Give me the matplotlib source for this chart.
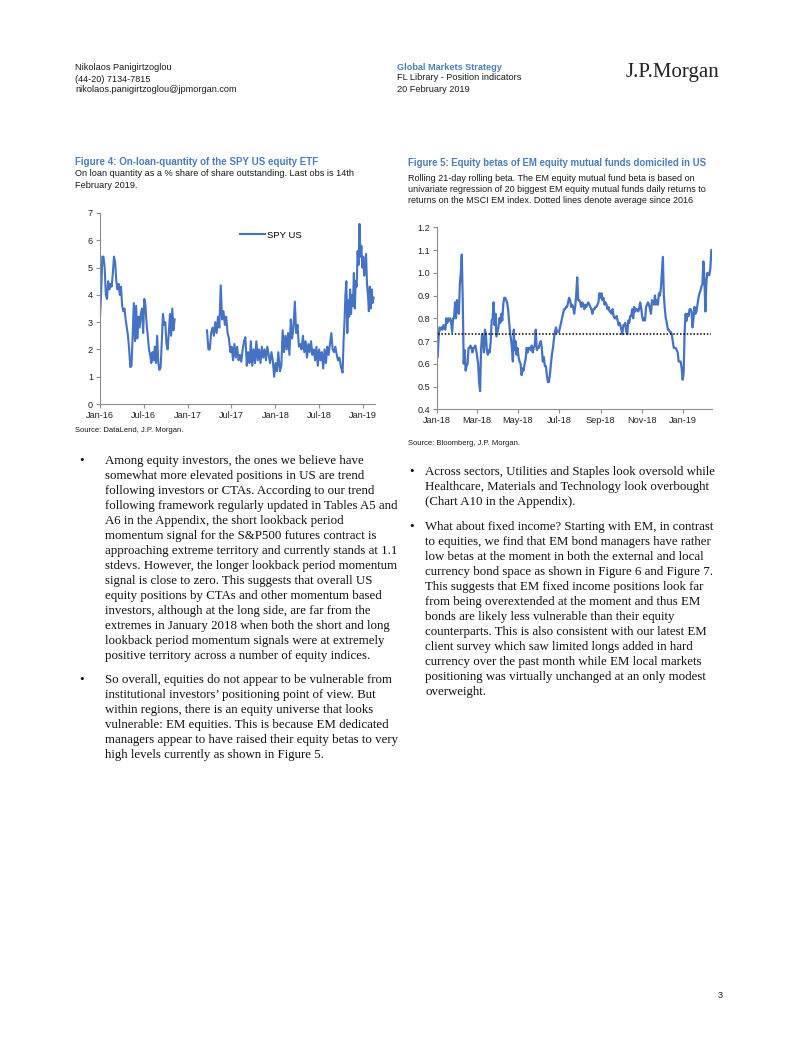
import matplotlib
matplotlib.use("Agg")
import matplotlib.pyplot as plt
import matplotlib.dates as mdates
import matplotlib.ticker as mticker
import pandas as pd
import numpy as np

# ---------------- data ----------------
# Figure 4: SPY US on-loan quantity (% of shares outstanding)
spy_seg1 = [3.2, 4.1, 5.4, 5.4, 5.0, 4.0, 3.85, 4.5, 4.2, 4.4, 4.3, 4.8, 5.4, 5.2, 4.5, 4.2, 4.4, 4.0,
            4.3, 3.6, 3.4, 3.5, 3.1, 2.8, 2.5, 2.0, 1.35, 1.4, 2.5, 3.7, 2.3, 3.6, 2.4, 3.2, 2.8, 3.3,
            3.5, 2.6, 3.85, 3.6, 2.9, 2.5, 2.0, 1.8, 1.5, 1.9, 1.6, 2.1, 1.5, 2.5, 1.5, 1.25, 1.35,
            2.3, 3.3, 2.9, 3.0, 2.2, 2.0, 2.6, 3.3, 2.5, 3.5, 2.7, 3.1]
spy_seg2 = [2.7, 2.0, 2.0, 2.6, 2.8, 2.5, 3.0, 2.6, 3.2, 2.8, 4.35, 3.1, 3.4, 2.9, 3.2, 2.6, 2.4,
            1.9, 2.1, 1.6, 2.2, 1.7, 2.1, 1.6, 1.8, 1.55, 2.0, 2.3, 2.45, 1.4, 1.9, 1.5, 2.3, 1.4,
            2.0, 1.5, 2.3, 1.6, 2.0, 1.5, 2.1, 1.7, 2.0, 1.6, 2.1, 1.8, 1.5, 1.9, 1.6, 1.0, 1.5,
            1.2, 1.9]
spy_seg3 = [1.2, 1.4, 2.7, 1.9, 2.5, 2.0, 2.6, 1.8, 3.1, 2.4, 2.8, 3.75, 2.6, 2.9, 2.1, 2.2, 2.0,
            2.5, 1.9, 2.3, 1.7, 2.2, 1.9, 2.3, 1.8, 2.0, 1.6, 2.1, 1.4, 2.0, 1.6, 1.9, 1.3, 2.0,
            1.5, 2.1, 1.8, 2.2, 2.6, 2.0, 1.9, 2.1, 1.8, 1.6, 1.7, 1.4, 1.2]
spy_seg4 = [1.15, 2.3, 3.0, 4.0, 4.5, 2.6, 3.8, 3.2, 4.2, 3.3, 4.0, 3.6, 4.8, 3.5, 4.5, 4.3, 5.6,
            5.1, 6.6, 5.4, 5.8, 5.0, 5.4, 4.7, 5.0, 5.5, 4.4, 4.0, 3.4, 4.3, 3.5, 4.2, 3.7, 3.9]
spy_seg_dates = [("2016-01-01", "2016-11-07"), ("2017-03-22", "2018-01-13"),
                 ("2018-01-20", "2018-10-06"), ("2018-10-08", "2019-02-14")]
spy_ticks = ["2016-01-01", "2016-07-01", "2017-01-01", "2017-07-01", "2018-01-01",
             "2018-07-01", "2019-01-01"]

# Figure 5: EM equity mutual fund beta
beta_seg1 = [0.63, 0.72, 0.76, 0.75, 0.76, 0.75, 0.77, 0.76, 0.75, 0.80, 0.78, 0.80, 0.79, 0.80,
             0.78, 0.74, 0.80, 0.80, 0.87, 0.80, 0.88, 0.86, 0.82, 0.95, 1.00, 1.08, 0.88, 0.60,
             0.66, 0.57, 0.59, 0.60, 0.67, 0.67, 0.68, 0.67, 0.65, 0.67, 0.67, 0.68, 0.66, 0.63,
             0.60, 0.52, 0.48, 0.66, 0.73, 0.70, 0.65, 0.75, 0.73, 0.66, 0.64, 0.66, 0.65, 0.70,
             0.79, 0.80, 0.87, 0.77, 0.82, 0.72, 0.74, 0.76, 0.80, 0.78, 0.82, 0.79, 0.86, 0.89,
             0.89, 0.88, 0.87, 0.84, 0.79, 0.74, 0.71, 0.67, 0.61, 0.75]
beta_seg2 = [0.66, 0.70, 0.64, 0.67, 0.63, 0.61, 0.60, 0.55, 0.58, 0.57, 0.60, 0.62, 0.67, 0.65,
             0.67, 0.67, 0.66, 0.68, 0.65, 0.67, 0.68, 0.75, 0.66, 0.67, 0.67, 0.69, 0.70, 0.67,
             0.61, 0.63, 0.59, 0.59, 0.55, 0.52, 0.52, 0.55, 0.60, 0.64, 0.67, 0.71, 0.74, 0.76,
             0.74, 0.74, 0.74, 0.76, 0.78, 0.80, 0.82, 0.84, 0.84, 0.85, 0.85, 0.87, 0.89, 0.88,
             0.85, 0.86, 0.85, 0.82, 0.85, 0.90, 0.98, 0.88, 0.88, 0.87, 0.85, 0.87, 0.86, 0.84,
             0.86, 0.85, 0.86, 0.87, 0.86, 0.85, 0.84, 0.82, 0.84, 0.84, 0.85, 0.85, 0.86, 0.87,
             0.91, 0.89, 0.91, 0.88, 0.89, 0.86, 0.87, 0.86, 0.84, 0.85, 0.83, 0.83, 0.82, 0.84,
             0.81, 0.80, 0.80, 0.81, 0.79, 0.77, 0.78]
beta_seg3 = [0.77, 0.75, 0.73, 0.77, 0.77, 0.78, 0.74, 0.73, 0.79, 0.78, 0.81, 0.81, 0.84, 0.80,
             0.85, 0.83, 0.84, 0.84, 0.83, 0.84, 0.87, 0.85, 0.81, 0.79, 0.80, 0.79, 0.85, 0.86,
             0.87, 0.86, 0.84, 0.82, 0.88, 0.87, 0.86, 0.90, 0.86, 0.88, 0.86, 0.91, 0.90, 0.93,
             1.00, 1.07, 0.90, 0.84, 0.80, 0.78, 0.75, 0.75, 0.74, 0.74, 0.73, 0.70, 0.67, 0.67,
             0.67, 0.66, 0.65, 0.61, 0.61, 0.61, 0.58, 0.53, 0.56, 0.74, 0.82, 0.79, 0.82, 0.81,
             0.84, 0.84, 0.83, 0.76, 0.80, 0.85, 0.82, 0.83, 0.86, 0.89, 0.91, 0.92, 0.94, 0.95,
             1.05, 0.97, 0.83, 0.96, 1.00, 0.99, 0.99, 1.02, 1.10]
beta_seg_dates = [("2018-01-02", "2018-04-25"), ("2018-04-26", "2018-09-29"),
                  ("2018-09-30", "2019-02-12")]
beta_avg = 0.73
beta_ticks = ["2018-01-01", "2018-03-01", "2018-05-01", "2018-07-01", "2018-09-01",
              "2018-11-01", "2019-01-01"]

# ---------------- page ----------------
W, H = 802, 1037
fig = plt.figure(figsize=(W / 100, H / 100), dpi=100)
fig.patch.set_facecolor("white")

SANS = "Liberation Sans"
SERIF = "Liberation Serif"
BLUE_T = "#4A7EBB"
LINE = "#4472C4"
TXT = "#1a1a1a"


def T(x, y, s, size=6.6, family=SANS, weight="normal", color=TXT, ha="left", va="center"):
    fig.text(x / W, 1 - y / H, s, fontsize=size, family=family, weight=weight,
             color=color, ha=ha, va=va)


# header
T(75, 68, "Nikolaos Panigirtzoglou")
T(75, 79, "(44-20) 7134-7815")
T(75, 89, "nikolaos.panigirtzoglou@jpmorgan.com")
T(397, 67, "Global Markets Strategy", weight="bold", color=BLUE_T)
T(397, 78, "FL Library - Position indicators")
T(397, 90, "20 February 2019")
T(626, 72, "J.P.Morgan", size=15, family=SERIF, color="#222222")

# figure titles
T(75, 162, "Figure 4: On-loan-quantity of the SPY US equity ETF", size=7.0, weight="bold", color=BLUE_T)
T(75, 174, "On loan quantity as a % share of share outstanding. Last obs is 14th", size=6.6)
T(75, 186, "February 2019.", size=6.6)
T(75, 430, "Source: DataLend, J.P. Morgan.", size=5.5)

T(408, 163, "Figure 5: Equity betas of EM equity mutual funds domiciled in US", size=6.95, weight="bold", color=BLUE_T)
T(408, 178, "Rolling 21-day rolling beta. The EM equity mutual fund beta is based on", size=6.45)
T(408, 189, "univariate regression of 20 biggest EM equity mutual funds daily returns to", size=6.45)
T(408, 200, "returns on the MSCI EM index. Dotted lines denote average since 2016", size=6.45)
T(408, 443, "Source: Bloomberg, J.P. Morgan.", size=5.5)


def style_axes(ax):
    for s in ["top", "right"]:
        ax.spines[s].set_visible(False)
    for s in ["left", "bottom"]:
        ax.spines[s].set_color("#8c8c8c")
        ax.spines[s].set_linewidth(0.8)
    ax.tick_params(axis="both", direction="out", length=3, width=0.8, color="#8c8c8c",
                   labelsize=6.6, labelcolor="#222222", pad=2)
    for lab in ax.get_xticklabels() + ax.get_yticklabels():
        lab.set_family(SANS)


# Figure 4 axes
ax1 = fig.add_axes([100 / W, 1 - 404 / H, 275 / W, 191 / H])
d1 = pd.date_range(*spy_seg_dates[0], periods=len(spy_seg1))
ax1.plot(d1, spy_seg1, color=LINE, lw=1.5)
d2, v2 = [], []
for vals, (a, b) in zip([spy_seg2, spy_seg3, spy_seg4], spy_seg_dates[1:]):
    d2.extend(pd.date_range(a, b, periods=len(vals)))
    v2.extend(vals)
ax1.plot(d2, v2, color=LINE, lw=1.5, label="SPY US")
ax1.set_ylim(0, 7)
ax1.set_yticks(range(0, 8))
ax1.set_xlim(pd.Timestamp("2016-01-01"), pd.Timestamp("2019-02-20"))
ax1.set_xticks([pd.Timestamp(t) for t in spy_ticks])
ax1.xaxis.set_major_formatter(mdates.DateFormatter("%b-%y"))
style_axes(ax1)
ax1.legend(frameon=False, loc="center left", bbox_to_anchor=(240 / W, 1 - 235 / H),
           bbox_transform=fig.transFigure, handlelength=2.6,
           handletextpad=0.3, borderpad=0, borderaxespad=0,
           prop={"family": SANS, "size": 6.8})

# Figure 5 axes
ax2 = fig.add_axes([437 / W, 1 - 409.3 / H, 275 / W, 182 / H])
bd, bv = [], []
for vals, (a, b) in zip([beta_seg1, beta_seg2, beta_seg3], beta_seg_dates):
    bd.extend(pd.date_range(a, b, periods=len(vals)))
    bv.extend(vals)
ax2.plot(bd, bv, color=LINE, lw=1.6)
ax2.plot([bd[0], bd[-1]], [beta_avg, beta_avg], color="black", lw=1.1, linestyle=(0, (1, 1.2)))
ax2.set_ylim(0.4, 1.2)
ax2.set_yticks(np.arange(0.4, 1.21, 0.1))
ax2.yaxis.set_major_formatter(mticker.FormatStrFormatter("%.1f"))
ax2.set_xlim(pd.Timestamp("2018-01-01"), pd.Timestamp("2019-02-13"))
ax2.set_xticks([pd.Timestamp(t) for t in beta_ticks])
ax2.xaxis.set_major_formatter(mdates.DateFormatter("%b-%y"))
style_axes(ax2)

# body text
left_p1 = ["Among equity investors, the ones we believe have",
           "somewhat more elevated positions in US are trend",
           "following investors or CTAs. According to our trend",
           "following framework regularly updated in Tables A5 and",
           "A6 in the Appendix, the short lookback period",
           "momentum signal for the S&P500 futures contract is",
           "approaching extreme territory and currently stands at 1.1",
           "stdevs. However, the longer lookback period momentum",
           "signal is close to zero. This suggests that overall US",
           "equity positions by CTAs and other momentum based",
           "investors, although at the long side, are far from the",
           "extremes in January 2018 when both the short and long",
           "lookback period momentum signals were at extremely",
           "positive territory across a number of equity indices."]
left_p2 = ["So overall, equities do not appear to be vulnerable from",
           "institutional investors\u2019 positioning point of view. But",
           "within regions, there is an equity universe that looks",
           "vulnerable: EM equities. This is because EM dedicated",
           "managers appear to have raised their equity betas to very",
           "high levels currently as shown in Figure 5."]
right_p1 = ["Across sectors, Utilities and Staples look oversold while",
            "Healthcare, Materials and Technology look overbought",
            "(Chart A10 in the Appendix)."]
right_p2 = ["What about fixed income? Starting with EM, in contrast",
            "to equities, we find that EM bond managers have rather",
            "low betas at the moment in both the external and local",
            "currency bond space as shown in Figure 6 and Figure 7.",
            "This suggests that EM fixed income positions look far",
            "from being overextended at the moment and thus EM",
            "bonds are likely less vulnerable than their equity",
            "counterparts. This is also consistent with our latest EM",
            "client survey which saw limited longs added in hard",
            "currency over the past month while EM local markets",
            "positioning was virtually unchanged at an only modest",
            "overweight."]

BODY = 9.3


def para(xb, xt, y0, lines):
    T(xb, y0, "\u2022", size=BODY, family=SERIF, color="#111111")
    for i, ln in enumerate(lines):
        T(xt, y0 + 15 * i, ln, size=BODY, family=SERIF, color="#111111")


para(79, 105, 461, left_p1)
para(79, 105, 680, left_p2)
para(409, 425, 472, right_p1)
para(409, 425, 527, right_p2)

T(718, 995, "3", size=6.6)

fig.savefig("out.png", dpi=100, facecolor="white")
